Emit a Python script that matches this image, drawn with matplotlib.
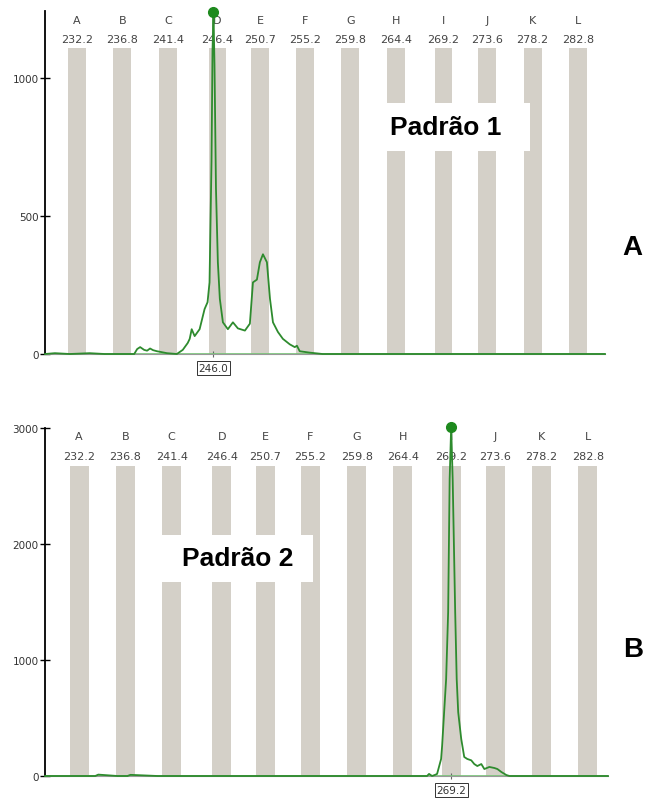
import numpy as np
import matplotlib
matplotlib.use("Agg")
import matplotlib.pyplot as plt
from matplotlib.patches import Rectangle

# bins (common to both panels)
bin_names = ["A", "B", "C", "D", "E", "F", "G", "H", "I", "J", "K", "L"]
bin_sizes = [232.2, 236.8, 241.4, 246.4, 250.7, 255.2, 259.8, 264.4, 269.2, 273.6, 278.2, 282.8]

# panel A trace (size in bp, RFU)
a_x = [229.0, 230.0, 231.5, 233.5, 235.0, 238.0, 238.3, 238.6, 239.0, 239.3, 239.6, 239.9,
       240.3, 240.6, 241.3, 242.3, 242.9, 243.4, 243.6, 243.8, 244.1, 244.6, 245.1,
       245.4, 245.6, 245.8, 245.9, 246.0, 246.1, 246.25, 246.44, 246.64, 246.95,
       247.45, 247.96, 248.46, 249.17, 249.67, 249.98, 250.38, 250.68, 250.99, 251.39,
       251.7, 252.0, 252.5, 253.0, 253.7, 254.2, 254.42, 254.7, 255.7, 257.0, 285.5]
a_y = [0, 3, 0, 3, 0, 0, 18, 25, 15, 12, 20, 14, 10, 8, 3, 0, 15, 40, 55, 90, 65, 90, 163,
       188, 260, 700, 1100, 1240, 1050, 600, 333, 200, 115, 90, 115, 93, 85, 110, 260, 270,
       333, 362, 333, 200, 115, 80, 55, 35, 25, 30, 10, 5, 0, 0]
a_peak = 246.0
a_peak_height = 1240

# panel B trace
b_x = [228.8, 232.0, 233.8, 234.1, 236.0, 237.0, 237.3, 240.0, 266.8, 267.0, 267.3, 267.6,
       267.8, 268.2, 268.3, 268.5, 268.7, 268.9, 269.05, 269.2, 269.35, 269.6, 269.75,
       269.9, 270.2, 270.5, 270.8, 271.2, 271.5, 271.8, 272.2, 272.5, 273.0, 273.5,
       273.8, 274.2, 274.7, 275.0, 284.8]
b_y = [0, 0, 0, 12, 0, 0, 10, 0, 0, 18, 0, 10, 18, 147, 260, 550, 836, 1414, 2560, 3010,
       2560, 1414, 836, 550, 320, 164, 147, 135, 103, 86, 103, 60, 78, 69, 60, 34, 8, 0, 0]
b_peak = 269.2
b_peak_height = 3010

bar_color = "#d4d0c8"
trace_color = "#2e8b2e"
base_color = "#74c474"

fig = plt.figure(figsize=(6.45, 8.04), dpi=100)
W, H = 645, 804


def px_axes(x0, y0, x1, y1):
    return fig.add_axes([x0 / W, 1 - y1 / H, (x1 - x0) / W, (y1 - y0) / H])


def draw_panel(ax, xlim, ymax, yticks, bar_h, bar_w, let_y, num_y, tx, ty, peak, peak_h):
    ax.set_xlim(*xlim)
    ax.set_ylim(0, ymax)
    ax.bar(bin_sizes, bar_h, width=bar_w, color=bar_color, zorder=1)
    for name, s in zip(bin_names, bin_sizes):
        ax.text(s, let_y, name, ha="center", va="center", fontsize=8, color="#444444")
        ax.text(s, num_y, f"{s:.1f}", ha="center", va="center", fontsize=8, color="#444444")
    ax.axhline(0, color=base_color, lw=1.2, zorder=2)
    ax.plot(tx, ty, color=trace_color, lw=1.3, zorder=3, clip_on=False)
    ax.plot([peak], [peak_h], "o", color="#1e8a1e", ms=7, zorder=4, clip_on=False)
    for s in ["top", "right"]:
        ax.spines[s].set_visible(False)
    ax.spines["left"].set_color("black")
    ax.spines["left"].set_linewidth(1.3)
    ax.spines["bottom"].set_color("#999999")
    ax.set_yticks(yticks)
    ax.tick_params(axis="y", direction="inout", length=7, width=1, labelsize=7.5,
                   labelcolor="#333333", pad=1)
    ax.set_xticks([peak], [f"{peak:.1f}"])
    ax.tick_params(axis="x", direction="inout", length=5, width=0.8, color="#666666",
                   labelsize=7.5, labelcolor="#333333", pad=4)
    for lab in ax.get_xticklabels():
        lab.set_bbox(dict(boxstyle="square,pad=0.15", fc="white", ec="#333333", lw=0.7))
    ax.set_facecolor("white")


axA = px_axes(45, 12, 605, 355)
draw_panel(axA, (229.0, 285.5), 1245, [0, 500, 1000], 1110, 1.8, 1211, 1145,
           a_x, a_y, a_peak, a_peak_height)

axB = px_axes(45, 429, 608, 777)
draw_panel(axB, (228.8, 284.8), 3000, [0, 1000, 2000, 3000], 2670, 1.9, 2931, 2759,
           b_x, b_y, b_peak, b_peak_height)

# white label boxes
for (x0, y0, x1, y1, txt) in [(362, 104, 530, 152, "Padrão 1"), (162, 536, 313, 583, "Padrão 2")]:
    fig.patches.append(Rectangle((x0 / W, 1 - y1 / H), (x1 - x0) / W, (y1 - y0) / H,
                                 transform=fig.transFigure, fc="white", ec="none", zorder=5))
    fig.text((x0 + x1) / 2 / W, 1 - (y0 + y1) / 2 / H, txt, ha="center", va="center",
             fontsize=19, fontweight="bold", family="Liberation Sans", zorder=6)

fig.text(632 / W, 1 - 248 / H, "A", ha="center", va="center", fontsize=20,
         fontweight="bold", family="Liberation Sans")
fig.text(633 / W, 1 - 650 / H, "B", ha="center", va="center", fontsize=20,
         fontweight="bold", family="Liberation Sans")

fig.savefig("out.png", dpi=100)
